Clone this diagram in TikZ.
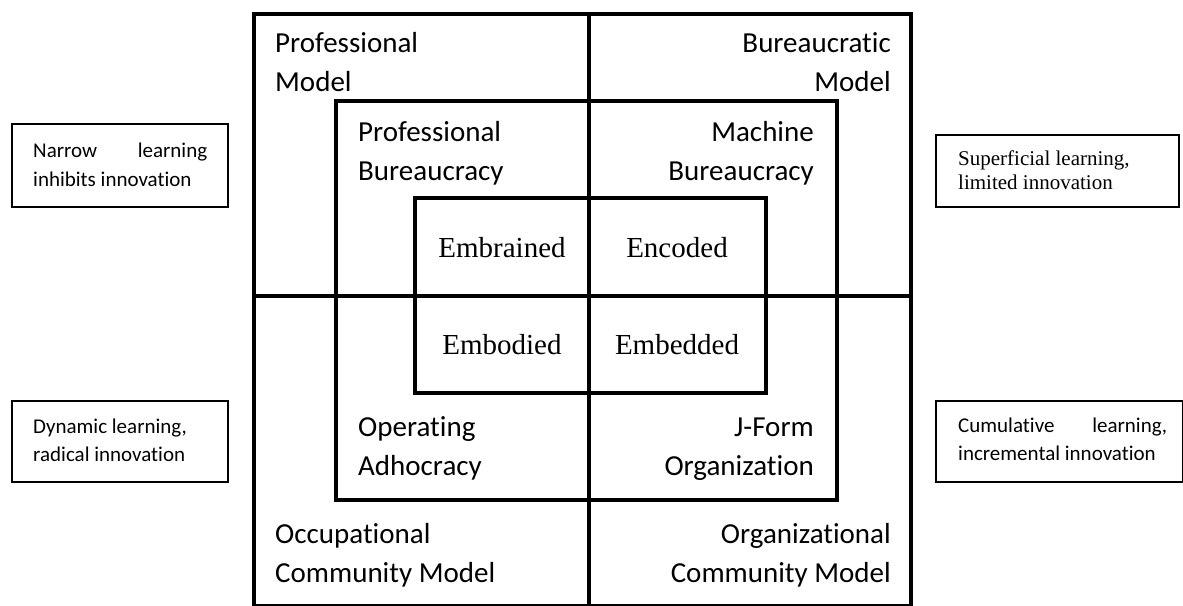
\documentclass[tikz,border=0pt]{standalone}
\usepackage{fontspec}
\setmainfont[Ligatures={NoCommon}]{Carlito}
\newfontfamily\tnr{Liberation Serif}
\begin{document}
\begin{tikzpicture}[x=1pt,y=-1pt,
  thick box/.style={line width=4pt},
  sidebox/.style={draw, line width=1.3pt, inner sep=0pt},
  biglbl/.style={inner sep=0pt, font=\fontsize{29}{35}\selectfont},
  midlbl/.style={inner sep=0pt, font=\tnr\fontsize{29}{35}\selectfont},
  smalllbl/.style={inner sep=0pt, font=\fontsize{21}{25}\selectfont},
  smallserif/.style={inner sep=0pt, font=\tnr\fontsize{21}{25}\selectfont}]
\useasboundingbox (0,0) rectangle (1183,605);
\begin{scope}
\clip (0,0) rectangle (1183,605);
% outer frame and cross
\draw[thick box] (254,14) rectangle (911,606);
\draw[thick box] (588.5,14) -- (588.5,606);
\draw[thick box] (254,296) -- (911,296);
\end{scope}
% middle box
\draw[thick box] (336,101) rectangle (837,500);
% inner box
\draw[thick box] (415,198) rectangle (766,393);

% outer labels
\node[biglbl, anchor=base west] (pm1) at (275,52) {Professional};
\node[biglbl, anchor=base west] (pm2) at (275,91) {Model};
\node[biglbl, anchor=base east] (bm1) at (891,52) {Bureaucratic};
\node[biglbl, anchor=base east] (bm2) at (891,91) {Model};
\node[biglbl, anchor=base west] (oc1) at (275,543) {Occupational};
\node[biglbl, anchor=base west] (oc2) at (275,582) {Community Model};
\node[biglbl, anchor=base east] (og1) at (891,543) {Organizational};
\node[biglbl, anchor=base east] (og2) at (891,582) {Community Model};

% middle labels
\node[biglbl, anchor=base west] (pb1) at (358,141) {Professional};
\node[biglbl, anchor=base west] (pb2) at (358,180) {Bureaucracy};
\node[biglbl, anchor=base east] (mb1) at (814,141) {Machine};
\node[biglbl, anchor=base east] (mb2) at (814,180) {Bureaucracy};
\node[biglbl, anchor=base west] (oa1) at (358,436) {Operating};
\node[biglbl, anchor=base west] (oa2) at (358,475) {Adhocracy};
\node[biglbl, anchor=base east] (jf1) at (814,436) {J-Form};
\node[biglbl, anchor=base east] (jf2) at (814,475) {Organization};

% inner labels
\node[midlbl, anchor=base] (ebr) at (502,257) {Embrained};
\node[midlbl, anchor=base] (enc) at (677,257) {Encoded};
\node[midlbl, anchor=base] (ebo) at (502,354) {Embodied};
\node[midlbl, anchor=base] (ebe) at (677,354) {Embedded};

% side boxes
\node[sidebox, minimum width=216pt, minimum height=83pt] (lt) at (120,165.5) {};
\node[smalllbl, anchor=base west] (lt1) at (33,157) {\hbox to 174pt{Narrow\hfill learning}};
\node[smalllbl, anchor=base west] (lt2) at (33,186) {inhibits innovation};

\node[sidebox, minimum width=243pt, minimum height=72pt] (rt) at (1057.5,171) {};
\node[smallserif, anchor=base west] (rt1) at (958,165) {Superficial learning,};
\node[smallserif, anchor=base west] (rt2) at (958,189) {limited innovation};

\node[sidebox, minimum width=216pt, minimum height=81pt] (lb) at (120,441.5) {};
\node[smalllbl, anchor=base west] (lb1) at (33,433) {Dynamic learning,};
\node[smalllbl, anchor=base west] (lb2) at (33,461) {radical innovation};

\node[sidebox, minimum width=247pt, minimum height=81pt] (rb) at (1059.5,441.5) {};
\node[smalllbl, anchor=base west] (rb1) at (958,432) {\hbox to 209pt{Cumulative\hfill learning,}};
\node[smalllbl, anchor=base west] (rb2) at (958,460) {incremental innovation};
\end{tikzpicture}
\end{document}
